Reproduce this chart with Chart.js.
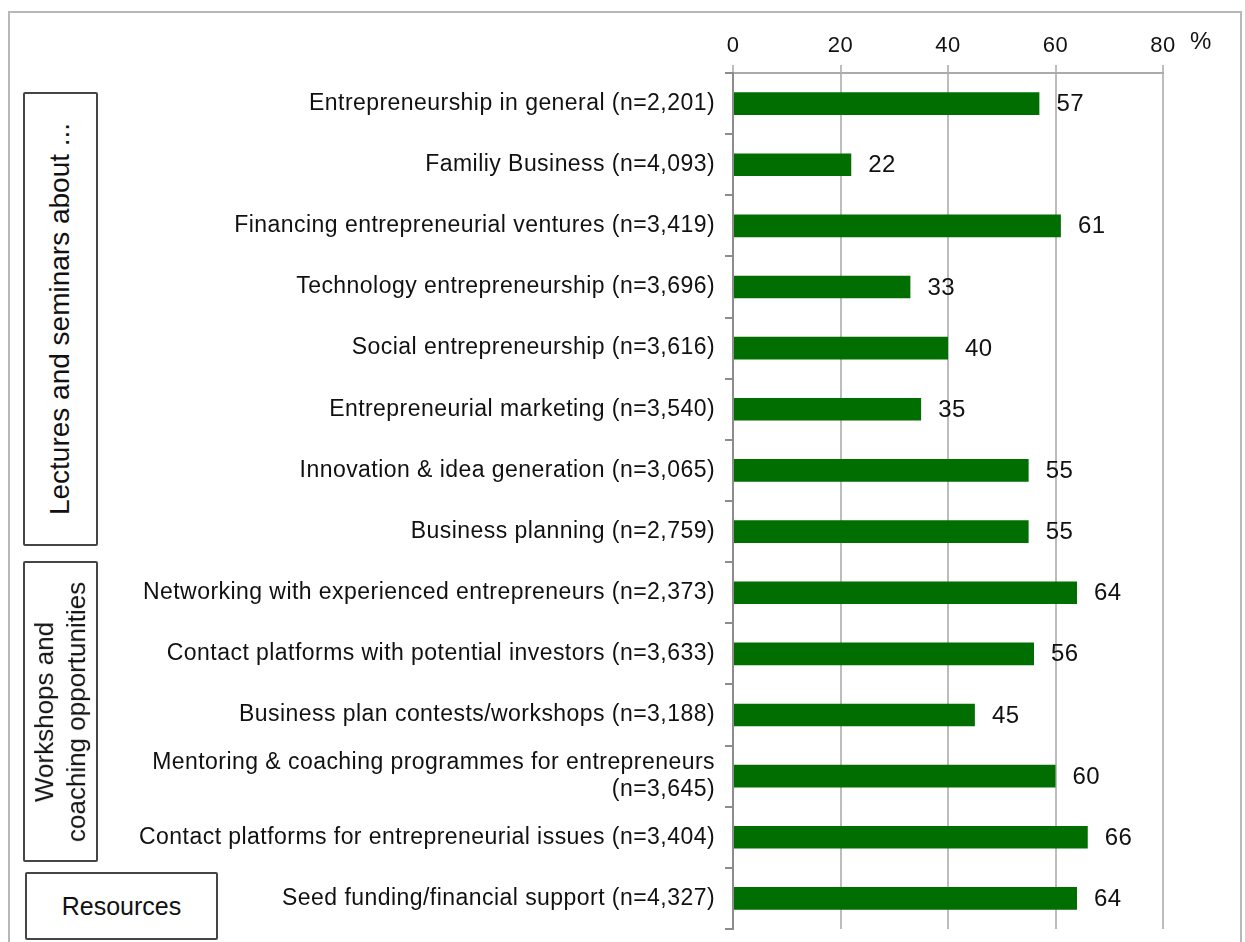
<!DOCTYPE html>
<html>
<head>
<meta charset="utf-8">
<script src="https://cdn.jsdelivr.net/npm/chart.js@4"></script>
<style>
  body { margin: 0; background: #fff; font-family: "Liberation Sans", Arial, sans-serif; }
  #wrap { position: relative; width: 1245px; height: 942px; overflow: hidden; }
  #frame { position: absolute; left: 8px; top: 11px; width: 1230px; height: 960px; border: 2px solid #b8b8b8; }
  .group { position: absolute; border: 2px solid #454545; border-radius: 2px; box-sizing: border-box;
           display: flex; align-items: center; justify-content: center; font-size: 25px; color: #111; background: #fff; }
  .group .rot { transform: rotate(-90deg); white-space: nowrap; text-align: center; line-height: 32px; }
</style>
</head>
<body>
<div id="wrap">
  <div id="frame"></div>
  <canvas id="chart" width="1245" height="942" style="position:absolute;left:0;top:0"></canvas>
  <div class="group" style="left:23px;top:92px;width:75px;height:454px"><div class="rot" style="font-size:28px">Lectures and seminars about ...</div></div>
  <div class="group" style="left:23px;top:561px;width:75px;height:301px"><div class="rot" style="font-size:26px">Workshops and<br>coaching opportunities</div></div>
  <div class="group" style="left:25px;top:872px;width:193px;height:68px">Resources</div>
</div>
<script>
// Share of respondents (%) per offer
const categories = [
    "Entrepreneurship in general (n=2,201)",
    "Familiy Business (n=4,093)",
    "Financing entrepreneurial ventures (n=3,419)",
    "Technology entrepreneurship (n=3,696)",
    "Social entrepreneurship (n=3,616)",
    "Entrepreneurial marketing (n=3,540)",
    "Innovation & idea generation (n=3,065)",
    "Business planning (n=2,759)",
    "Networking with experienced entrepreneurs (n=2,373)",
    "Contact platforms with potential investors (n=3,633)",
    "Business plan contests/workshops (n=3,188)",
    ["Mentoring & coaching programmes for entrepreneurs", "(n=3,645)"],
    "Contact platforms for entrepreneurial issues (n=3,404)",
    "Seed funding/financial support (n=4,327)"
];
const values = [57, 22, 61, 33, 40, 35, 55, 55, 64, 56, 45, 60, 66, 64];
const axisTicks = [0, 20, 40, 60, 80];
const unitLabel = "%";

const FONT = "'Liberation Sans', Arial, sans-serif";

// slightly looser text spacing for all canvas text
const spacing = {
    id: 'spacing',
    beforeDraw(chart) { chart.ctx.letterSpacing = "0.45px"; }
};

// value next to each bar + unit label after the top axis
const barLabels = {
    id: 'barLabels',
    afterDatasetsDraw(chart) {
        const ctx = chart.ctx;
        const meta = chart.getDatasetMeta(0);
        ctx.save();
        ctx.font = "24px " + FONT;
        ctx.fillStyle = "#111";
        ctx.textBaseline = "middle";
        ctx.textAlign = "left";
        meta.data.forEach((bar, i) => {
            ctx.fillText(values[i], bar.x + 17, bar.y + 1);
        });
        const xs = chart.scales.x;
        ctx.fillText(unitLabel, xs.getPixelForValue(axisTicks[axisTicks.length - 1]) + 27, 42);
        ctx.restore();
    }
};

const ctx = document.getElementById("chart").getContext("2d");
new Chart(ctx, {
    type: "bar",
    data: {
        labels: categories,
        datasets: [{
            data: values,
            backgroundColor: "#006e00",
            borderWidth: 0,
            categoryPercentage: 1,
            barPercentage: 0.37
        }]
    },
    plugins: [spacing, barLabels],
    options: {
        indexAxis: "y",
        responsive: false,
        animation: false,
        layout: { padding: { left: 100, right: 82, top: 20, bottom: 13 } },
        plugins: { legend: { display: false }, tooltip: { enabled: false } },
        scales: {
            x: {
                position: "top",
                min: 0,
                max: 80,
                afterFit(scale) { scale.height = 53; },
                afterBuildTicks(scale) { scale.ticks = axisTicks.map(v => ({ value: v })); },
                ticks: { color: "#111", font: { family: FONT, size: 22 }, padding: 6 },
                grid: { color: "#bdbdbd", lineWidth: 2, tickLength: 8 },
                border: { color: "#ababab", width: 2 }
            },
            y: {
                afterFit(scale) {
                    scale.width = 633;
                    scale.paddingTop = 0;
                    scale.paddingBottom = 0;
                },
                ticks: { color: "#111", font: { family: FONT, size: 23, lineHeight: 1.2 }, padding: 10 },
                grid: { drawOnChartArea: false, color: "#8c8c8c", lineWidth: 2, tickLength: 8 },
                border: { color: "#8c8c8c", width: 2 }
            }
        }
    }
});
</script>
</body>
</html>
